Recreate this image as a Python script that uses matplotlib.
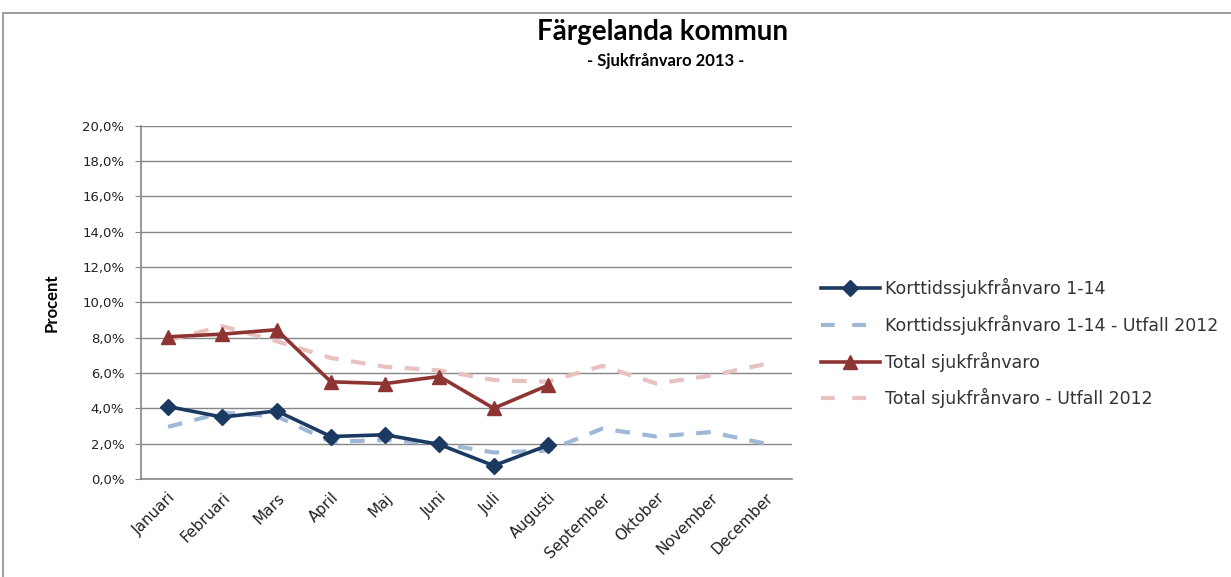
import numpy as np
import matplotlib
matplotlib.use('Agg')
import matplotlib.pyplot as plt
from matplotlib.patches import Rectangle
from matplotlib.lines import Line2D
from matplotlib.ticker import FuncFormatter

# Månader och värden (procent)
months = ['Januari', 'Februari', 'Mars', 'April', 'Maj', 'Juni', 'Juli',
          'Augusti', 'September', 'Oktober', 'November', 'December']
kort_2013 = [4.1, 3.5, 3.85, 2.4, 2.5, 1.95, 0.75, 1.9]
kort_2012 = [2.95, 3.75, 3.55, 2.1, 2.2, 2.0, 1.5, 1.6, 2.85, 2.4, 2.65, 2.0]
total_2013 = [8.05, 8.2, 8.45, 5.5, 5.4, 5.8, 4.0, 5.3]
total_2012 = [7.85, 8.65, 7.8, 6.85, 6.35, 6.15, 5.6, 5.5, 6.4, 5.4, 5.85, 6.5]
labels = ['Korttidssjukfrånvaro 1-14', 'Korttidssjukfrånvaro 1-14 - Utfall 2012',
          'Total sjukfrånvaro', 'Total sjukfrånvaro - Utfall 2012']

x = np.arange(len(months))

fig = plt.figure(figsize=(12.31, 5.77), dpi=100)
ax = fig.add_axes([0.1145, 0.170, 0.529, 0.612])

# ram runt hela diagrammet
fig.patches.append(Rectangle((3 / 1231, -0.01), 1.2, 1 - 13 / 577 + 0.01,
                             transform=fig.transFigure, fill=False,
                             edgecolor='#8c8c8c', linewidth=1.2))

l1, = ax.plot(x[:len(kort_2013)], kort_2013, color='#1b3a61', lw=2.6, marker='D',
              markersize=8, zorder=4)
ax.plot(x, kort_2012, color='#9fb8d6', lw=3, dashes=(3.5, 3), zorder=3)
l3, = ax.plot(x[:len(total_2013)], total_2013, color='#8e3533', lw=2.6, marker='^',
              markersize=10, zorder=4)
ax.plot(x, total_2012, color='#e8c1c0', lw=3, dashes=(3.5, 3), zorder=3)

ax.set_xlim(-0.5, 11.5)
ax.set_ylim(0, 20)
ax.set_yticks(np.arange(0, 21, 2))
ax.yaxis.set_major_formatter(FuncFormatter(lambda v, p: ('%.1f%%' % v).replace('.', ',')))
ax.set_xticks(x)
ax.set_xticklabels(months, rotation=45, ha='right', rotation_mode='anchor')
ax.tick_params(axis='x', length=0, labelsize=11, pad=8, labelcolor='#222222')
ax.tick_params(axis='y', length=4, color='#868686', labelsize=9.5, pad=8, labelcolor='#222222')
ax.grid(axis='y', color='#868686', lw=1)
ax.set_axisbelow(True)
for s in ['top', 'right']:
    ax.spines[s].set_visible(False)
for s in ['left', 'bottom']:
    ax.spines[s].set_color('#868686')
    ax.spines[s].set_linewidth(1.2)

ax.set_ylabel('Procent', fontsize=12, fontweight='bold', family='Lato', labelpad=16)

fig.text(0.538, 0.945, 'Färgelanda kommun', ha='center', va='center',
         fontsize=20, fontweight='bold', family='Lato')
fig.text(0.541, 0.895, '- Sjukfrånvaro 2013 -', ha='center', va='center',
         fontsize=12, fontweight='bold', family='Lato')

# legendens streckade linjer har längre streck än i diagrammet
h2 = Line2D([], [], color='#9fb8d6', lw=3, dashes=(3.3, 4.2))
h4 = Line2D([], [], color='#e8c1c0', lw=3, dashes=(3.3, 4.2))
ax.legend([l1, h2, l3, h4], labels, loc='center left', bbox_to_anchor=(1.02, 0.384),
          frameon=False, fontsize=12.5, handlelength=3.4, handletextpad=0.3,
          labelspacing=0.95, labelcolor='#333333')

fig.savefig('out.png', dpi=100)
